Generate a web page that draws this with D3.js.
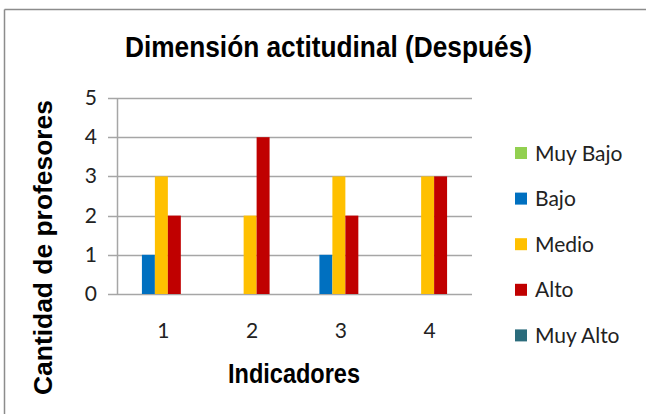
<!DOCTYPE html>
<html>
<head>
<meta charset="utf-8">
<script src="https://cdn.jsdelivr.net/npm/d3@7"></script>
<style>
  body { margin: 0; background: #fff; }
  text { fill: #000; }
</style>
</head>
<body>
<div id="chart"></div>
<script>
// data
const indicadores = ["1", "2", "3", "4"];
const niveles = ["Muy Bajo", "Bajo", "Medio", "Alto", "Muy Alto"];
const muyBajo = [0, 0, 0, 0];
const bajo = [1, 0, 1, 0];
const medio = [3, 2, 3, 3];
const alto = [2, 4, 2, 3];
const muyAlto = [0, 0, 0, 0];
const yTicks = [0, 1, 2, 3, 4, 5];
const colores = ["#92D050", "#0070C0", "#FFC000", "#C00000", "#2B6C7C"];

const series = [muyBajo, bajo, medio, alto, muyAlto];

let w = 646;
let h = 414;

let svg = d3.select("#chart").append("svg")
  .attr("width", w)
  .attr("height", h);

// frame (only top & left edges visible in the crop)
svg.append("line").attr("x1", 4.5).attr("x2", w).attr("y1", 9.5).attr("y2", 9.5)
  .attr("stroke", "#8c8c8c").attr("stroke-width", 1.5);
svg.append("line").attr("x1", 4.5).attr("x2", 4.5).attr("y1", 9.5).attr("y2", h)
  .attr("stroke", "#8c8c8c").attr("stroke-width", 1.5);

// scales
var x = d3.scaleBand()
  .domain(indicadores)
  .range([117, 472])
  .padding(0);

var xInner = d3.scaleBand()
  .domain(niveles)
  .range([0, x.bandwidth()])
  .paddingInner(0)
  .paddingOuter(0.92);

var y = d3.scaleLinear()
  .domain([0, 5])
  .range([294, 98]);

// gridlines + tick marks
svg.append("g")
  .selectAll("line")
  .data(yTicks)
  .enter()
  .append("line")
  .attr("x1", 108)
  .attr("x2", 472)
  .attr("y1", d => Math.round(y(d)) + 0.5)
  .attr("y2", d => Math.round(y(d)) + 0.5)
  .attr("stroke", "#a6a6a6")
  .attr("stroke-width", 1.5);

// vertical axis line
svg.append("line")
  .attr("x1", 117.5).attr("x2", 117.5)
  .attr("y1", y(5)).attr("y2", y(0))
  .attr("stroke", "#a6a6a6")
  .attr("stroke-width", 1.5);

// y tick labels
svg.append("g")
  .selectAll("text")
  .data(yTicks)
  .enter()
  .append("text")
  .attr("x", 97)
  .attr("y", d => y(d) + 7)
  .attr("text-anchor", "end")
  .style("font-family", "Lato, 'Open Sans', sans-serif")
  .style("font-size", "21px")
  .style("fill", "#222")
  .text(d => d);

// x tick labels
svg.append("g")
  .selectAll("text")
  .data(indicadores)
  .enter()
  .append("text")
  .attr("x", d => x(d) + x.bandwidth() / 2 + 2)
  .attr("y", 338)
  .attr("text-anchor", "middle")
  .style("font-family", "Lato, 'Open Sans', sans-serif")
  .style("font-size", "21px")
  .style("fill", "#222")
  .text(d => d);

// bars
var flat = [];
series.forEach(function(vals, si) {
  vals.forEach(function(v, ci) {
    flat.push({ cat: indicadores[ci], nivel: niveles[si], value: v, color: colores[si] });
  });
});

svg.append("g")
  .selectAll("rect")
  .data(flat.filter(d => d.value > 0))
  .enter()
  .append("rect")
  .attr("x", d => x(d.cat) + xInner(d.nivel))
  .attr("width", xInner.bandwidth())
  .attr("y", d => y(d.value))
  .attr("height", d => y(0) - y(d.value))
  .attr("fill", d => d.color);

// title
svg.append("text")
  .attr("x", 125)
  .attr("y", 57)
  .attr("textLength", 407)
  .attr("lengthAdjust", "spacingAndGlyphs")
  .style("font-family", "'Liberation Sans Narrow', 'Arial Narrow', 'Liberation Sans', sans-serif")
  .style("font-weight", "bold")
  .style("font-size", "29px")
  .text("Dimensión actitudinal (Después)");

// axis titles
svg.append("text")
  .attr("x", 228)
  .attr("y", 383)
  .attr("textLength", 132)
  .attr("lengthAdjust", "spacingAndGlyphs")
  .style("font-family", "'Liberation Sans Narrow', 'Arial Narrow', 'Liberation Sans', sans-serif")
  .style("font-weight", "bold")
  .style("font-size", "27px")
  .text("Indicadores");

svg.append("text")
  .attr("transform", "translate(52,395) rotate(-90)")
  .attr("textLength", 295)
  .attr("lengthAdjust", "spacingAndGlyphs")
  .style("font-family", "'Liberation Sans', Arial, sans-serif")
  .style("font-weight", "bold")
  .style("font-size", "25px")
  .text("Cantidad de profesores");

// legend
var legend = svg.append("g")
  .selectAll("g")
  .data(niveles)
  .enter()
  .append("g")
  .attr("transform", (d, i) => "translate(515," + (153 + i * 45.6) + ")");

legend.append("rect")
  .attr("x", 0)
  .attr("y", -6)
  .attr("width", 12)
  .attr("height", 12)
  .attr("fill", (d, i) => colores[i]);

legend.append("text")
  .attr("x", 20)
  .attr("y", 7.5)
  .style("font-family", "Lato, 'Open Sans', sans-serif")
  .style("font-size", "21px")
  .style("fill", "#222")
  .text(d => d);
</script>
</body>
</html>
